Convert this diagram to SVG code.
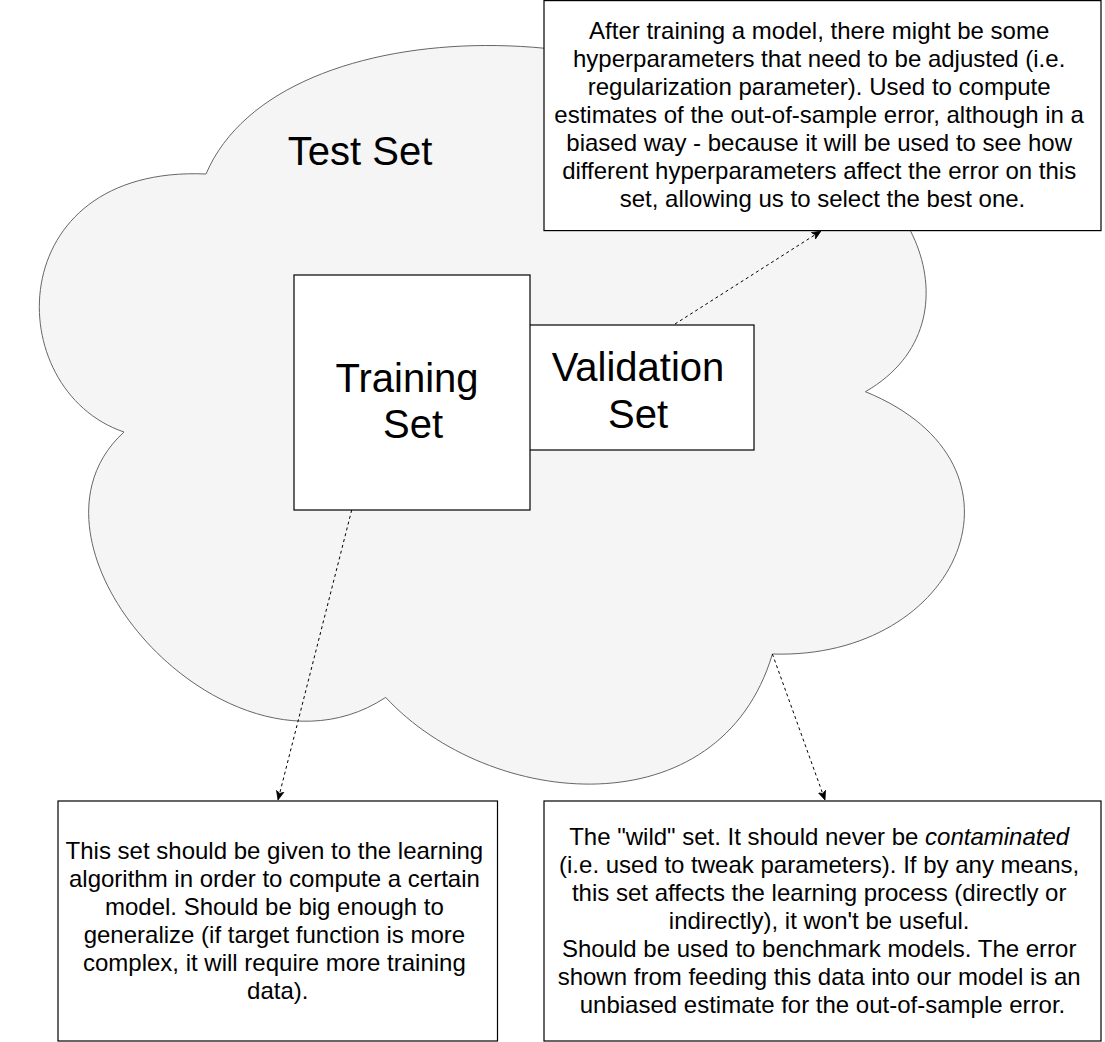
<svg xmlns="http://www.w3.org/2000/svg" width="1105" height="1042" viewBox="0 0 1105 1042">
  <style>
    .box { fill: #ffffff; stroke: #000000; stroke-width: 1.2; }
    .cloud { fill: #f5f5f5; stroke: #666666; stroke-width: 1; }
    .big { font-family: "Liberation Sans", Arial, Helvetica, sans-serif; font-size: 40px; fill: #000000; text-anchor: middle; }
    .desc { font-family: "Liberation Sans", Arial, Helvetica, sans-serif; font-size: 24px; fill: #000000; text-anchor: middle; }
    .edge { fill: none; stroke: #000000; stroke-width: 1; stroke-dasharray: 3 3; }
  </style>
  <defs>
    <marker id="arrow" viewBox="0 0 10 10" refX="10" refY="5" markerWidth="9" markerHeight="9" markerUnits="userSpaceOnUse" orient="auto">
      <path d="M0,0.8 L10,5 L0,9.2 L2.5,5 Z" fill="#000000" stroke="#000000" stroke-width="0.8"/>
    </marker>
  </defs>

  <g id="test-set">
    <path class="cloud" d="M206,174 C0,165 0,390 124,432 C0,545 230,800 385.7,697.4 C490,810 720,830 772.4,654 C960,660 1045,465 865.4,391.7 C990,320 900,150 800,160 C680,10 280,0 206,174 Z"/>
    <text class="big" x="360" y="165">Test Set</text>
  </g>

  <g id="validation-set">
    <rect class="box" x="521" y="325" width="233" height="125"/>
    <text class="big"><tspan x="638" y="381">Validation</tspan><tspan x="638" y="428">Set</tspan></text>
  </g>

  <g id="training-set">
    <rect class="box" x="294" y="275" width="236" height="235"/>
    <text class="big"><tspan x="407" y="392">Training</tspan><tspan x="413" y="438">Set</tspan></text>
  </g>

  <g id="validation-note">
    <rect class="box" x="544" y="0.6" width="557" height="230"/>
    <text class="desc">
      <tspan x="822.5" y="39">After training a model, there might be some</tspan>
      <tspan x="822.5" y="67">hyperparameters that need to be adjusted (i.e.</tspan>
      <tspan x="822.5" y="95">regularization parameter). Used to compute</tspan>
      <tspan x="822.5" y="123">estimates of the out-of-sample error, although in a</tspan>
      <tspan x="822.5" y="151">biased way - because it will be used to see how</tspan>
      <tspan x="822.5" y="179">different hyperparameters affect the error on this</tspan>
      <tspan x="822.5" y="207">set, allowing us to select the best one.</tspan>
    </text>
  </g>

  <g id="training-note">
    <rect class="box" x="58" y="801" width="439.5" height="240"/>
    <text class="desc">
      <tspan x="277.75" y="859">This set should be given to the learning</tspan>
      <tspan x="277.75" y="887">algorithm in order to compute a certain</tspan>
      <tspan x="277.75" y="915">model. Should be big enough to</tspan>
      <tspan x="277.75" y="943">generalize (if target function is more</tspan>
      <tspan x="277.75" y="971">complex, it will require more training</tspan>
      <tspan x="277.75" y="999">data).</tspan>
    </text>
  </g>

  <g id="test-note">
    <rect class="box" x="544" y="801" width="557" height="240"/>
    <text class="desc">
      <tspan x="822.5" y="845">The "wild" set. It should never be <tspan font-style="italic">contaminated</tspan></tspan>
      <tspan x="822.5" y="873">(i.e. used to tweak parameters). If by any means,</tspan>
      <tspan x="822.5" y="901">this set affects the learning process (directly or</tspan>
      <tspan x="822.5" y="929">indirectly), it won't be useful.</tspan>
      <tspan x="822.5" y="957">Should be used to benchmark models. The error</tspan>
      <tspan x="822.5" y="985">shown from feeding this data into our model is an</tspan>
      <tspan x="822.5" y="1013">unbiased estimate for the out-of-sample error.</tspan>
    </text>
  </g>

  <g id="connectors">
    <line class="edge" x1="351.7" y1="510" x2="278" y2="800" marker-end="url(#arrow)"/>
    <line class="edge" x1="675" y1="324" x2="821" y2="231" marker-end="url(#arrow)"/>
    <line class="edge" x1="772.4" y1="654" x2="825" y2="800" marker-end="url(#arrow)"/>
  </g>
</svg>
